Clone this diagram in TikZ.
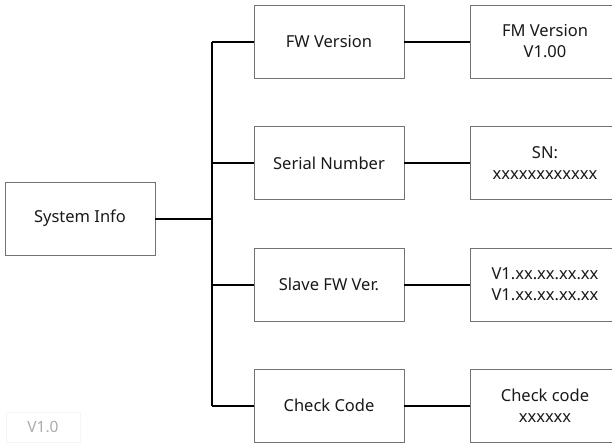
\documentclass[tikz,border=0pt]{standalone}
\usepackage{fontspec}
\setmainfont{Noto Sans}
\begin{document}
\begin{tikzpicture}[x=1pt,y=-1pt,
  box/.style={draw=black!55, line width=0.9pt, minimum width=150pt, minimum height=73pt,
    inner sep=0pt, align=center, font=\fontsize{16.5}{21}\selectfont, text=black!90},
  conn/.style={line width=2pt, black},
  ver/.style={draw=black!4, line width=0.8pt, minimum width=74pt, minimum height=30pt,
    inner sep=0pt, text=black!33, font=\fontsize{15.5}{18}\selectfont}]
\useasboundingbox (0,0) rectangle (612,442);
\clip (0,0) rectangle (612,442);
\node[box] (sys) at (80,218.5) {System Info};
\node[box] (b1) at (329,41.5) {FW Version};
\node[box] (b2) at (329,163) {Serial Number};
\node[box] (b3) at (329,284.5) {Slave FW Ver.};
\node[box] (b4) at (329,405.5) {Check Code};
\node[box] (r1) at (545,41.5) {FM Version\\V1.00};
\node[box] (r2) at (545,163) {SN:\\xxxxxxxxxxxx};
\node[box] (r3) at (545,284.5) {V1.xx.xx.xx.xx\\V1.xx.xx.xx.xx};
\node[box] (r4) at (545,405.5) {Check code\\xxxxxx};
\coordinate (t1) at (212,41.5);
\coordinate (t2) at (212,163);
\coordinate (t3) at (212,284.5);
\coordinate (t4) at (212,405.5);
\draw[conn] (sys.east) -- (sys.east -| t1);
\draw[conn] (t1) -- (t4);
\draw[conn] (t1) -- (b1.west);
\draw[conn] (t2) -- (b2.west);
\draw[conn] (t3) -- (b3.west);
\draw[conn] (t4) -- (b4.west);
\draw[conn] (b1.east) -- (r1.west);
\draw[conn] (b2.east) -- (r2.west);
\draw[conn] (b3.east) -- (r3.west);
\draw[conn] (b4.east) -- (r4.west);
\node[ver] (v) at (43,427) {V1.0};
\end{tikzpicture}
\end{document}
